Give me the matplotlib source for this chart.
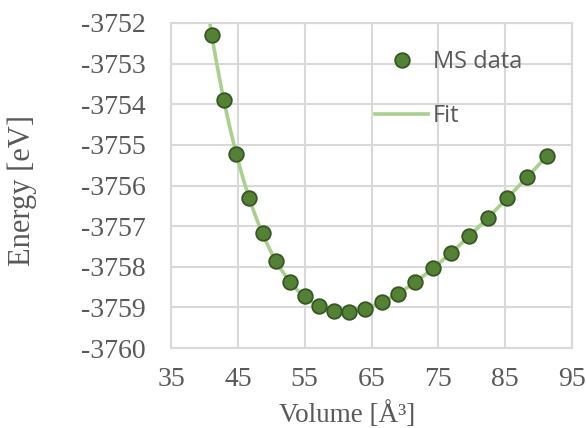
import numpy as np
import matplotlib
matplotlib.use("Agg")
import matplotlib.pyplot as plt

plt.rcParams["axes.unicode_minus"] = False

# MS energies vs. cell volume
volume = [41.1, 42.9, 44.8, 46.7, 48.7, 50.7, 52.8, 55.0, 57.2, 59.4, 61.7,
          64.1, 66.5, 69.0, 71.5, 74.2, 76.9, 79.6, 82.4, 85.3, 88.2, 91.3]
energy = [-3752.30, -3753.90, -3755.23, -3756.31, -3757.18, -3757.86,
          -3758.37, -3758.73, -3758.97, -3759.09, -3759.11, -3759.03,
          -3758.87, -3758.66, -3758.37, -3758.03, -3757.66, -3757.24,
          -3756.80, -3756.31, -3755.80, -3755.28]

x_ticks = [35, 45, 55, 65, 75, 85, 95]
y_ticks = [-3760, -3759, -3758, -3757, -3756, -3755, -3754, -3753, -3752]

# Birch-Murnaghan style fit: cubic polynomial in V^(-2/3)
v = np.array(volume)
coef = np.polyfit(v ** (-2 / 3), np.array(energy), 3)
v_fit = np.linspace(40.0, v.max(), 300)
e_fit = np.polyval(coef, v_fit ** (-2 / 3))

grey = "#595959"
grid_c = "#d9d9d9"
serif = "Liberation Serif"

fig = plt.figure(figsize=(5.86, 4.28), dpi=100)
ax = fig.add_axes([171 / 586, 1 - 348 / 428, 401 / 586, 325 / 428])

ax.plot(v_fit, e_fit, color="#a9d18e", lw=2.6, label="Fit", zorder=2)
ax.plot(volume, energy, "o", ms=10.5, mfc="#548235", mec="#375623",
        mew=1.3, label="MS data", zorder=3)

ax.set_xlim(35, 95)
ax.set_ylim(-3760, -3752)
ax.set_xticks(x_ticks)
ax.set_yticks(y_ticks)
ax.grid(True, color=grid_c, lw=1.5)
ax.set_axisbelow(True)
for s in ax.spines.values():
    s.set_color(grid_c)
    s.set_linewidth(1.5)
ax.tick_params(length=0, labelsize=20, labelcolor=grey)
ax.tick_params(axis="y", pad=18)
ax.tick_params(axis="x", pad=14)
for lab in ax.get_xticklabels() + ax.get_yticklabels():
    lab.set_family(serif)

ax.set_xlabel("Volume [Å³]", fontsize=19.5, color=grey, family=serif)
ax.set_ylabel("Energy [eV]", fontsize=22, color=grey, family=serif)
ax.xaxis.set_label_coords(0.44, -0.162)
ax.yaxis.set_label_coords(-0.335, 0.486)

h, l = ax.get_legend_handles_labels()
leg = fig.legend(h[::-1], l[::-1], loc="upper left",
                 bbox_to_anchor=(375 / 586, 1 - 50 / 428),
                 borderaxespad=0, borderpad=0, frameon=False,
                 prop={"family": "Open Sans", "size": 17},
                 labelcolor=grey, handlelength=2.25, handletextpad=0.2,
                 labelspacing=1.27)

fig.savefig("out.png", dpi=100)
